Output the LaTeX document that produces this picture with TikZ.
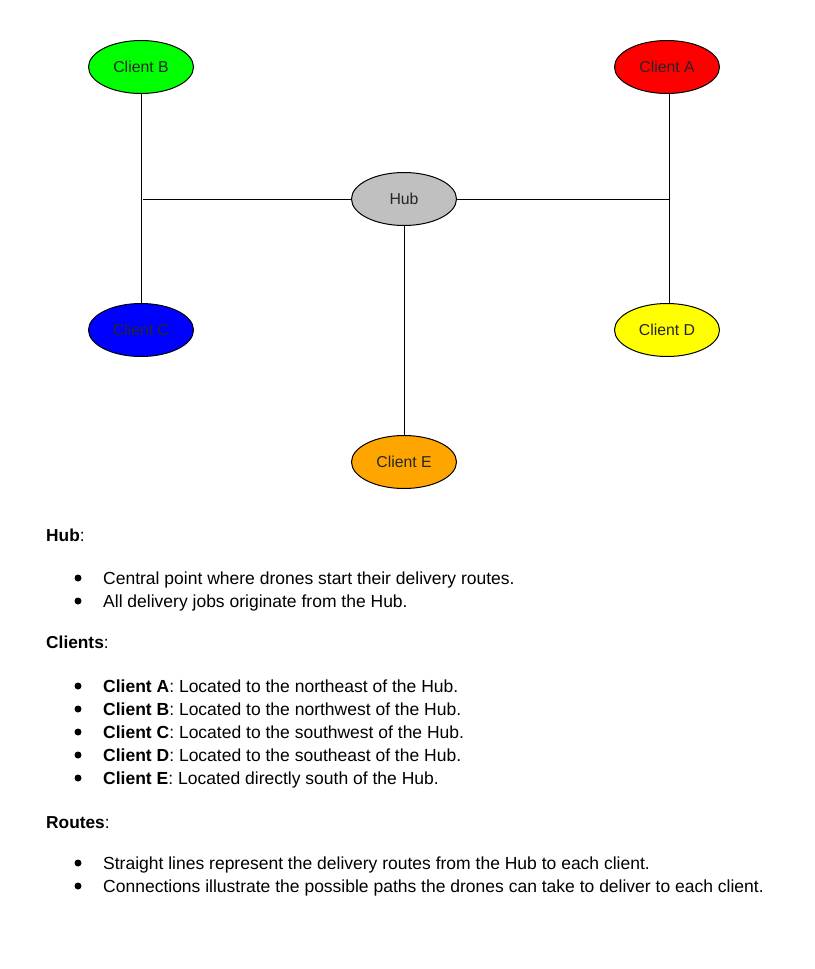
\documentclass[tikz,border=0pt]{standalone}
\usepackage{fontspec}
\setmainfont{Liberation Sans}
\usetikzlibrary{shapes.geometric}
\definecolor{cgreen}{HTML}{00FF00}
\definecolor{cred}{HTML}{FF0000}
\definecolor{cblue}{HTML}{0000FF}
\definecolor{cyellow}{HTML}{FFFF00}
\definecolor{corange}{HTML}{FFA500}
\definecolor{cgray}{HTML}{C0C0C0}
\tikzset{
  place/.style={ellipse, draw=black, line width=1pt, minimum width=105pt, minimum height=53pt, inner sep=0pt, font=\fontsize{15.8}{18}\selectfont, text=black!85},
  route/.style={draw=black, line width=1pt},
  heading/.style={anchor=base west, inner sep=0pt, font=\fontsize{17.3}{20}\selectfont},
  item/.style={anchor=base west, inner sep=0pt, font=\fontsize{17.5}{20}\selectfont},
  dot/.style={circle, fill=black, inner sep=0pt, minimum size=7pt}
}
\begin{document}
\begin{tikzpicture}[x=1pt,y=-1pt]
\useasboundingbox (0,0) rectangle (814,969);
\fill[white] (0,0) rectangle (814,969);
% nodes
\node[place, fill=cgreen] (B) at (141,67) {Client B};
\node[place, fill=cred] (A) at (667,67) {Client A};
\node[place, fill=cgray] (H) at (404,199) {Hub};
\node[place, fill=cblue] (C) at (141,330) {Client C};
\node[place, fill=cyellow] (D) at (667,330) {Client D};
\node[place, fill=corange] (E) at (404,462) {Client E};
\coordinate (jl) at (143,198);
\coordinate (jr) at (669,199);
% connectors
\draw[route] (B.south) -- (C.north);
\draw[route] (H.west) -- (H.west -| jl);
\draw[route] (H.east) -- (jr);
\draw[route] (A.south -| jr) -- (D.north -| jr);
\draw[route] (H.south) -- (E.north);
% text
\node[heading] (t1) at (46,541) {\textbf{Hub}:};
\node[dot] (b11) at (78,578) {};
\node[item] (i11) at (103,584) {Central point where drones start their delivery routes.};
\node[dot] (b12) at (78,601) {};
\node[item] (i12) at (103,607) {All delivery jobs originate from the Hub.};
\node[heading] (t2) at (46,648) {\textbf{Clients}:};
\node[dot] (b21) at (78,686) {};
\node[item] (i21) at (103,692) {\textbf{Client A}: Located to the northeast of the Hub.};
\node[dot] (b22) at (78,709) {};
\node[item] (i22) at (103,715) {\textbf{Client B}: Located to the northwest of the Hub.};
\node[dot] (b23) at (78,732) {};
\node[item] (i23) at (103,738) {\textbf{Client C}: Located to the southwest of the Hub.};
\node[dot] (b24) at (78,755) {};
\node[item] (i24) at (103,761) {\textbf{Client D}: Located to the southeast of the Hub.};
\node[dot] (b25) at (78,778) {};
\node[item] (i25) at (103,784) {\textbf{Client E}: Located directly south of the Hub.};
\node[heading] (t3) at (46,828) {\textbf{Routes}:};
\node[dot] (b31) at (78,863) {};
\node[item] (i31) at (103,869) {Straight lines represent the delivery routes from the Hub to each client.};
\node[dot] (b32) at (78,886) {};
\node[item] (i32) at (103,892) {Connections illustrate the possible paths the drones can take to deliver to each client.};
\end{tikzpicture}
\end{document}
